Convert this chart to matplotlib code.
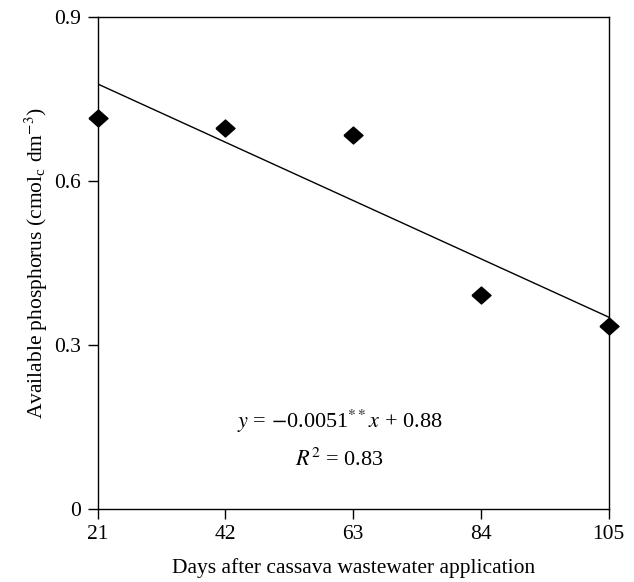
import matplotlib
matplotlib.use("Agg")
import matplotlib.pyplot as plt
import numpy as np

# data
days = [21, 42, 63, 84, 105]
phosphorus = [0.716, 0.697, 0.684, 0.391, 0.335]
y_ticks = [0, 0.3, 0.6, 0.9]
y_labels = ['0', '0.3', '0.6', '0.9']

plt.rcParams['font.family'] = ['Liberation Serif', 'DejaVu Serif']
plt.rcParams['mathtext.fontset'] = 'stix'

fig = plt.figure(figsize=(6.34, 5.82), dpi=100)
ax = fig.add_axes([0.154, 0.126, 0.806, 0.844])

# regression line from the data
coef = np.polyfit(days, phosphorus, 1)
xl = np.array([days[0], days[-1]])
ax.plot(xl, np.polyval(coef, xl), color='black', linewidth=1)

diamond = [(-1, 0), (0, 0.89), (1, 0), (0, -0.89), (-1, 0)]
ax.plot(days, phosphorus, linestyle='none', marker=diamond, markersize=13.7,
        color='black', clip_on=False, zorder=3)

ax.set_xlim(21, 105)
ax.set_ylim(0, 0.9)
ax.set_xticks(days)
ax.set_xticklabels([str(d) for d in days])
ax.set_yticks(y_ticks)
ax.set_yticklabels(y_labels)
ax.tick_params(direction='out', length=7, width=1, labelsize=15.5, pad=5)
for s in ax.spines.values():
    s.set_linewidth(1)

ax.set_xlabel('Days after cassava wastewater application', fontsize=15.5, labelpad=10)
ax.set_ylabel(r'Available phosphorus (cmol$_\mathregular{c}$ dm$^{-3}$)', fontsize=15.5, labelpad=3)

ax.text(60.8, 0.160, r'$y$ = $-$0.0051$^{**}$$x$ + 0.88', ha='center', va='center', fontsize=16)
ax.text(60.8, 0.090, r'$R^2$ = 0.83', ha='center', va='center', fontsize=16)

fig.savefig('out.png', dpi=100)
